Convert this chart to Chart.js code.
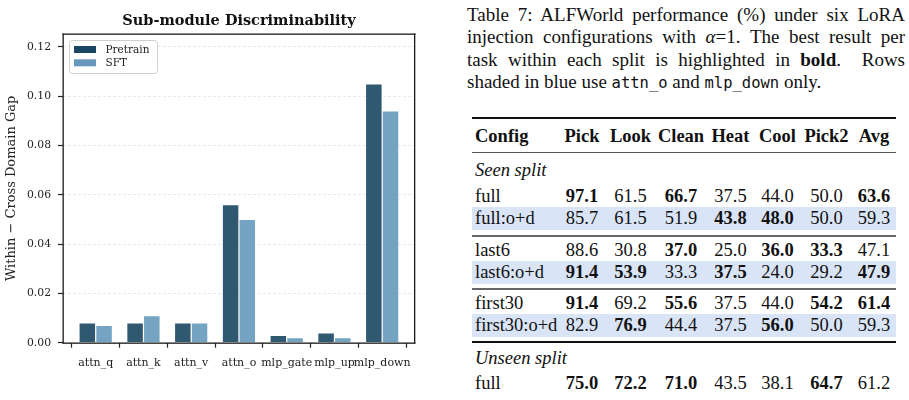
<!DOCTYPE html>
<html>
<head>
<meta charset="utf-8">
<script src="https://cdn.jsdelivr.net/npm/chart.js@4"></script>
<style>
  html, body { margin: 0; padding: 0; background: #fff; }
  body { width: 909px; height: 400px; position: relative; overflow: hidden; }
  #chartBox { position: absolute; left: 0; top: 0; width: 420px; height: 400px; }
  .caption { position: absolute; left: 467px; top: 4px; width: 438px;
    font-family: "Liberation Serif", serif; font-size: 19px; line-height: 22.3px; color: #111; }
  .caption div { text-align: justify; text-align-last: justify; white-space: nowrap; }
  .caption div.last { text-align-last: left; }
  .caption code { font-family: "DejaVu Sans Mono", monospace; font-size: 15.5px; }
  .tbl { position: absolute; left: 472px; top: 0; width: 424px;
    font-family: "Liberation Serif", serif; font-size: 18.5px; color: #111; }
  .row { position: absolute; left: 0; width: 424px; display: grid;
    grid-template-columns: 86px 48px 49px 52px 47px 47px 51px 44px; align-items: center; }
  .row span { text-align: center; }
  .row span:first-child { text-align: left; padding-left: 3px; }
  .row.head span { font-weight: bold; }
  .row.shade { background: #d9e4f7; }
  .row .b { font-weight: bold; }
  .split { position: absolute; left: 3px; font-style: italic; }
  .rule { position: absolute; left: 0; width: 424px; }
</style>
</head>
<body>
<div id="chartBox"><canvas id="gapChart" width="420" height="400"></canvas></div>

<div class="caption">
  <div>Table 7: ALFWorld performance (%) under six LoRA</div>
  <div>injection configurations with <i>α</i>=1. The best result per</div>
  <div>task within each split is highlighted in <b>bold</b>.&nbsp; Rows</div>
  <div class="last">shaded in blue use <code>attn_o</code> and <code>mlp_down</code> only.</div>
</div>

<div class="tbl" id="tbl"></div>

<script>
// CHART DATA
const categories = ["attn_q", "attn_k", "attn_v", "attn_o", "mlp_gate", "mlp_up", "mlp_down"];
const pretrainGap = [0.008, 0.008, 0.008, 0.056, 0.003, 0.004, 0.105];
const sftGap = [0.007, 0.011, 0.008, 0.050, 0.002, 0.002, 0.094];
const yTicks = [0, 0.02, 0.04, 0.06, 0.08, 0.10, 0.12];

// TABLE DATA
const tableCols = ["Config", "Pick", "Look", "Clean", "Heat", "Cool", "Pick2", "Avg"];
const seenConfigs = ["full", "full:o+d", "last6", "last6:o+d", "first30", "first30:o+d"];
const seenScores = [
    [97.1, 61.5, 66.7, 37.5, 44.0, 50.0, 63.6],
    [85.7, 61.5, 51.9, 43.8, 48.0, 50.0, 59.3],
    [88.6, 30.8, 37.0, 25.0, 36.0, 33.3, 47.1],
    [91.4, 53.9, 33.3, 37.5, 24.0, 29.2, 47.9],
    [91.4, 69.2, 55.6, 37.5, 44.0, 54.2, 61.4],
    [82.9, 76.9, 44.4, 37.5, 56.0, 50.0, 59.3]
];
const seenBold = [
    [1, 0, 1, 0, 0, 0, 1],
    [0, 0, 0, 1, 1, 0, 0],
    [0, 0, 1, 0, 1, 1, 0],
    [1, 1, 0, 1, 0, 0, 1],
    [1, 0, 1, 0, 0, 1, 1],
    [0, 1, 0, 0, 1, 0, 0]
];
const unseenConfigs = ["full"];
const unseenScores = [[75.0, 72.2, 71.0, 43.5, 38.1, 64.7, 61.2]];
const unseenBold = [[1, 1, 1, 0, 0, 1, 0]];

const serif = "'DejaVu Serif', serif";

// in-axes legend + full frame
const frameLegend = {
    id: "frameLegend",
    afterDraw(chart) {
        const { ctx, chartArea: a } = chart;
        ctx.save();
        const l = Math.round(a.left), t = Math.round(a.top);
        const r = Math.round(a.right), b = Math.round(a.bottom);
        ctx.fillStyle = "#1a1a1a";
        ctx.fillRect(l - 0.5, t - 0.5, r - l + 1, 1.3);
        ctx.fillRect(l - 0.5, b - 0.5, r - l + 1, 1.3);
        ctx.fillRect(l - 0.5, t - 0.5, 1.3, b - t + 1);
        ctx.fillRect(r - 1, t - 0.5, 1.3, b - t + 1);

        const bx = a.left + 6, by = a.top + 6, bw = 88, bh = 33;
        ctx.beginPath();
        ctx.roundRect(bx + 0.5, by + 0.5, bw, bh, 3);
        ctx.fillStyle = "rgba(255,255,255,0.85)";
        ctx.fill();
        ctx.strokeStyle = "#cfcfcf";
        ctx.lineWidth = 1;
        ctx.stroke();

        ctx.font = "10.5px " + serif;
        ctx.textBaseline = "middle";
        chart.data.datasets.forEach((ds, i) => {
            const y = by + 6 + i * 13.3;
            ctx.fillStyle = ds.legendColor;
            ctx.fillRect(bx + 5, y, 22, 7);
            ctx.fillStyle = "#222";
            ctx.fillText(ds.label, bx + 36.5, y + 3.8);
        });
        ctx.restore();
    }
};

new Chart(document.getElementById("gapChart"), {
    type: "bar",
    data: {
        datasets: [{
            label: "Pretrain",
            data: categories.map((c, i) => ({ x: i, y: pretrainGap[i] })),
            backgroundColor: "rgba(27,70,98,0.9)",
            legendColor: "#1b4662",
            borderColor: "rgba(255,255,255,0.35)",
            borderWidth: 0.6
        }, {
            label: "SFT",
            data: categories.map((c, i) => ({ x: i, y: sftGap[i] })),
            backgroundColor: "rgba(102,153,187,0.9)",
            legendColor: "#6699bb",
            borderColor: "rgba(255,255,255,0.35)",
            borderWidth: 0.6
        }]
    },
    options: {
        responsive: false,
        animation: false,
        categoryPercentage: 0.7,
        barPercentage: 1.0,
        layout: { padding: { left: 0, right: 1, top: 0, bottom: 0 } },
        plugins: {
            legend: { display: false },
            tooltip: { enabled: false },
            title: {
                display: true,
                fullSize: false,
                text: "Sub-module Discriminability",
                color: "#111",
                font: { family: serif, size: 14.5, weight: "bold" },
                padding: { top: 13, bottom: 3.6 }
            }
        },
        scales: {
            x: {
                type: "linear",
                offset: false,
                min: -0.685,
                max: 6.685,
                afterBuildTicks: s => { s.ticks = categories.map((c, i) => ({ value: i })); },
                afterFit: s => { s.height = 57.3; },
                ticks: {
                    callback: v => categories[v],
                    autoSkip: false,
                    maxRotation: 0,
                    padding: 9,
                    color: "#222",
                    font: { family: serif, size: 11 }
                },
                grid: { drawOnChartArea: false, tickLength: 5, tickColor: "#222", tickWidth: 1.2 },
                border: { display: false }
            },
            y: {
                min: 0,
                max: 0.1252,
                afterBuildTicks: s => { s.ticks = yTicks.map(v => ({ value: v })); },
                afterFit: s => { s.width = 63; },
                ticks: {
                    callback: v => v.toFixed(2),
                    padding: 7,
                    color: "#222",
                    font: { family: serif, size: 10.8 }
                },
                grid: { color: "#e4e4e4", lineWidth: 0.8, tickLength: 5, tickColor: "#222", tickWidth: 1.2 },
                border: { display: false, dash: [3, 2] },
                title: {
                    display: true,
                    text: "Within \u2212 Cross Domain Gap",
                    color: "#222",
                    font: { family: serif, size: 13 },
                    padding: { top: 4, bottom: 0 }
                }
            }
        }
    },
    plugins: [frameLegend]
});

// TABLE
const tbl = document.getElementById("tbl");

function addRule(top, h, color) {
    const r = document.createElement("div");
    r.className = "rule";
    r.style.top = top + "px";
    r.style.height = h + "px";
    r.style.background = color;
    tbl.appendChild(r);
}

function addRow(top, h, cells, bold, cls) {
    const r = document.createElement("div");
    r.className = "row " + (cls || "");
    r.style.top = top + "px";
    r.style.height = h + "px";
    cells.forEach((c, i) => {
        const s = document.createElement("span");
        s.textContent = typeof c === "number" ? c.toFixed(1) : c;
        if (bold && i > 0 && bold[i - 1]) s.className = "b";
        r.appendChild(s);
    });
    tbl.appendChild(r);
}

function addSplit(top, h, text) {
    const d = document.createElement("div");
    d.className = "split";
    d.style.top = top + "px";
    d.style.height = h + "px";
    d.style.lineHeight = h + "px";
    d.textContent = text;
    tbl.appendChild(d);
}

addRule(117, 2, "#111");
addRow(120, 33, tableCols, null, "head");
addRule(152, 1.2, "#555");
addSplit(158, 24, "Seen split");

const seenTops = [185, 207, 239, 261, 292, 314];
seenConfigs.forEach((c, i) => {
    addRow(seenTops[i], i % 2 ? 23 : 22, [c].concat(seenScores[i]), seenBold[i], i % 2 ? "shade" : "");
});
addRule(235, 2, "#666");
addRule(288, 2, "#666");
addRule(341, 1.5, "#111");

addSplit(346, 24, "Unseen split");
unseenConfigs.forEach((c, i) => {
    addRow(372, 22, [c].concat(unseenScores[i]), unseenBold[i], "");
});
</script>
</body>
</html>
